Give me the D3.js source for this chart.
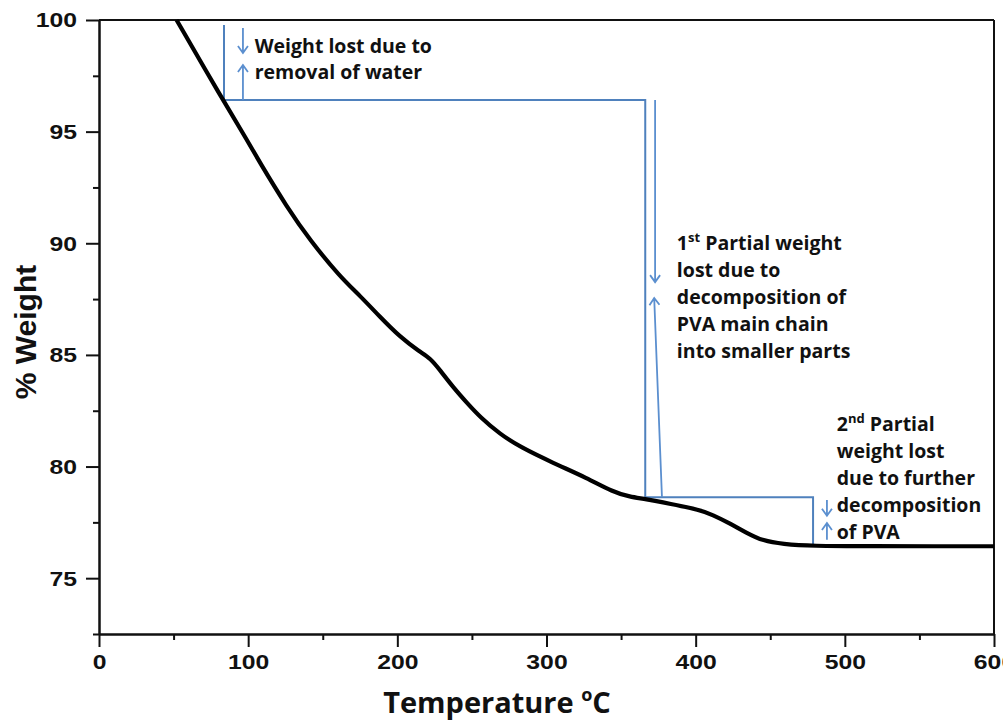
<!DOCTYPE html>
<html>
<head>
<meta charset="utf-8">
<script src="https://cdn.jsdelivr.net/npm/d3@7"></script>
<style>
  html, body { margin: 0; padding: 0; background: #fff; }
  svg { display: block; }
  .tick text { font-family: "Liberation Sans", Arial, sans-serif; font-weight: bold; font-size: 19.5px; fill: #111; }
  .ann { font-family: "Open Sans", sans-serif; font-weight: bold; font-size: 19.5px; fill: #111; }
</style>
</head>
<body>
<svg id="chart" width="1003" height="724"></svg>
<script>
// ---- Data ----
const temperature = [52, 83, 96.5, 108, 126, 141.4, 161.6, 175, 188.4, 201.8, 215.2, 221.9, 228.6, 237.3, 246.7, 255.4, 268.8, 282.2, 304.4, 327.2, 344.6, 356, 366, 382.8, 402.9, 411.6, 421, 434.4, 445.1, 458.6, 476.7, 520, 560, 600];
const weight      = [100, 96.42, 94.94, 93.59, 91.62, 90.14, 88.50, 87.65, 86.70, 85.80, 85.13, 84.86, 84.32, 83.56, 82.85, 82.22, 81.45, 80.88, 80.16, 79.49, 78.86, 78.64, 78.55, 78.33, 78.06, 77.83, 77.52, 77.02, 76.67, 76.53, 76.44, 76.43, 76.43, 76.43];

const xMajorTicks = [0, 100, 200, 300, 400, 500, 600];
const xMinorTicks = [50, 150, 250, 350, 450, 550];
const yMajorTicks = [75, 80, 85, 90, 95, 100];
const yMinorTicks = [72.5, 77.5, 82.5, 87.5, 92.5, 97.5];

// annotation bracket (data units: temperature, weight)
const bracketT = [83.8, 83.8, 366.2, 366.2, 478.7, 478.7];
const bracketW = [99.78, 96.42, 96.42, 78.63, 78.63, 76.43];

// annotation arrows: [fromT, fromW, toT, toW]
const arrows = [
  [96.5, 99.64, 96.5, 98.52],
  [96.5, 96.42, 96.5, 97.98],
  [372.8, 96.42, 372.8, 88.26],
  [377.4, 78.63, 372.2, 87.55],
  [488.0, 78.50, 488.0, 77.80],
  [488.0, 76.72, 488.0, 77.47]
];

const note1 = ["Weight lost due to", "removal of water"];
const note2 = [["1", "st", " Partial weight"], "lost due to", "decomposition of", "PVA main chain", "into smaller parts"];
const note3 = [["2", "nd", " Partial"], "weight lost", "due to further", "decomposition", "of PVA"];
const noteAnchors = [[104.4, 98.52], [387.4, 89.72], [494.6, 81.6]];

const xTitle = "Temperature ";
const yTitle = "% Weight";

// ---- Chart ----
const svg = d3.select("#chart");
const mLeft = 99, mRight = 994, mTop = 20, mBottom = 634;
const x = d3.scaleLinear().domain([0, 600]).range([mLeft, mRight]);
const y = d3.scaleLinear().domain([72.5, 100]).range([mBottom, mTop]);

// frame top/right
svg.append("line").attr("x1", mLeft).attr("x2", mRight).attr("y1", mTop).attr("y2", mTop)
  .attr("stroke", "#111").attr("stroke-width", 2);
svg.append("line").attr("x1", mRight).attr("x2", mRight).attr("y1", mTop).attr("y2", mBottom)
  .attr("stroke", "#111").attr("stroke-width", 2);

function styleAxis(g) {
  g.selectAll("path.domain").attr("stroke", "#111").attr("stroke-width", 2);
  g.selectAll(".tick line").attr("stroke", "#111").attr("stroke-width", 2);
}

// minor ticks
const gxm = svg.append("g").attr("transform", `translate(0,${mBottom})`)
  .call(d3.axisBottom(x).tickValues(xMinorTicks).tickSize(6).tickSizeOuter(0).tickFormat(""));
styleAxis(gxm);
const gym = svg.append("g").attr("transform", `translate(${mLeft},0)`)
  .call(d3.axisLeft(y).tickValues(yMinorTicks).tickSize(6).tickSizeOuter(0).tickFormat(""));
styleAxis(gym);

// major ticks
const gx = svg.append("g").attr("transform", `translate(0,${mBottom})`)
  .call(d3.axisBottom(x).tickValues(xMajorTicks).tickSize(13).tickSizeOuter(0).tickPadding(8).tickFormat(d3.format("d")));
styleAxis(gx);
const gy = svg.append("g").attr("transform", `translate(${mLeft},0)`)
  .call(d3.axisLeft(y).tickValues(yMajorTicks).tickSize(13).tickSizeOuter(0).tickPadding(9).tickFormat(d3.format("d")));
styleAxis(gy);

// widen tick labels like the reference (horizontally stretched glyphs)
const stretch = 1.27;
gx.selectAll(".tick text")
  .attr("x", 0).attr("y", 0).attr("dy", "0.72em")
  .attr("transform", `translate(0,21) scale(${stretch},1)`);
gy.selectAll(".tick text")
  .attr("x", 0).attr("dy", "0.35em")
  .attr("transform", `translate(-22,0) scale(${stretch},1)`);

// bracket annotation
const bracketPts = bracketT.map((t, i) => [x(t), y(bracketW[i])]);
svg.append("path").attr("d", d3.line()(bracketPts))
  .attr("fill", "none").attr("stroke", "#4F81BD").attr("stroke-width", 2);

// arrows
arrows.forEach(a => {
  const x1 = x(a[0]), y1 = y(a[1]), x2 = x(a[2]), y2 = y(a[3]);
  const dx = x2 - x1, dy = y2 - y1, L = Math.hypot(dx, dy);
  const ux = dx / L, uy = dy / L;
  const hl = 7, hw = 5;
  const bx = x2 - ux * hl, by = y2 - uy * hl;
  const px = -uy, py = ux;
  const d = `M${x1},${y1}L${x2},${y2}M${bx + px * hw},${by + py * hw}L${x2},${y2}L${bx - px * hw},${by - py * hw}`;
  svg.append("path").attr("d", d).attr("fill", "none")
    .attr("stroke", "#5B8FCF").attr("stroke-width", 1.8);
});

// curve
svg.append("path")
  .datum(temperature.map((t, i) => [t, weight[i]]))
  .attr("d", d3.line().x(d => x(d[0])).y(d => y(d[1])).curve(d3.curveBasis))
  .attr("fill", "none").attr("stroke", "#000").attr("stroke-width", 4.2)
  .attr("stroke-linejoin", "round");

// annotation texts
function drawNote(lines, anchor, spacing) {
  const t = svg.append("text").attr("class", "ann")
    .attr("x", x(anchor[0])).attr("y", y(anchor[1]));
  lines.forEach((ln, i) => {
    if (Array.isArray(ln)) {
      t.append("tspan").attr("x", x(anchor[0])).attr("dy", i === 0 ? 0 : spacing).text(ln[0]);
      t.append("tspan").attr("font-size", "13px").attr("dy", -8).text(ln[1]);
      t.append("tspan").attr("dy", 8).text(ln[2]);
    } else {
      t.append("tspan").attr("x", x(anchor[0])).attr("dy", i === 0 ? 0 : spacing).text(ln);
    }
  });
}
drawNote(note1, noteAnchors[0], 26);
drawNote(note2, noteAnchors[1], 27);
drawNote(note3, noteAnchors[2], 27);

// axis titles
const xt = svg.append("text").attr("x", 497).attr("y", 713).attr("text-anchor", "middle")
  .attr("font-family", "'Open Sans', sans-serif").attr("font-weight", "bold").attr("font-size", "29px").attr("fill", "#111");
xt.append("tspan").text(xTitle);
xt.append("tspan").attr("font-size", "18px").attr("dy", -12).text("o");
xt.append("tspan").attr("dy", 12).text("C");

svg.append("text").attr("transform", "translate(36,332) rotate(-90)").attr("text-anchor", "middle")
  .attr("font-family", "'Liberation Sans', Arial, sans-serif").attr("font-weight", "bold").attr("font-size", "30px").attr("fill", "#111")
  .text(yTitle);
</script>
</body>
</html>
